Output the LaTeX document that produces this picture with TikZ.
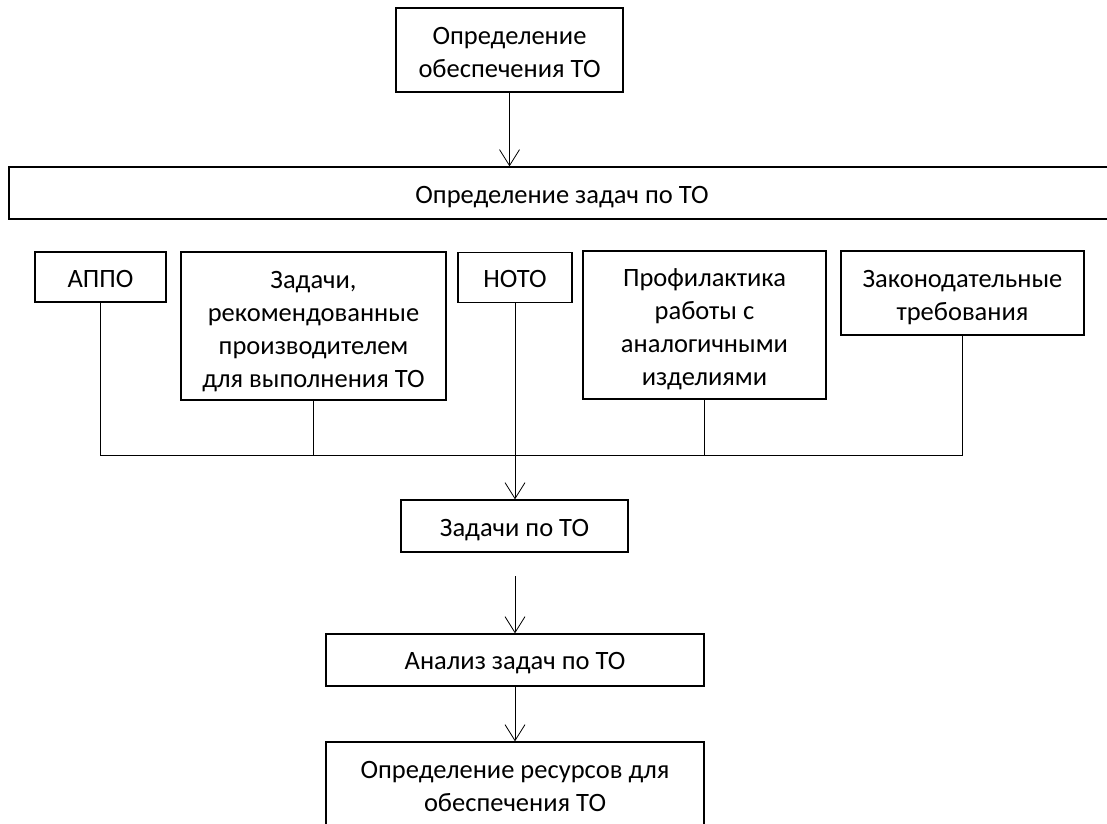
\documentclass[tikz,border=0pt]{standalone}
\usepackage{fontspec}
\setmainfont{Carlito}
\usetikzlibrary{arrows.meta}
\newcommand{\boxtxt}[2][4]{\raisebox{-#1pt}[\height][\depth]{\begin{tabular}{@{}c@{}}#2\end{tabular}}}
\begin{document}
\begin{tikzpicture}[x=1pt,y=-1pt,
  box/.style={draw, line width=1.3pt, inner sep=0pt, font=\fontsize{26.5}{33}\selectfont},
  link/.style={line width=0.8pt},
  arr/.style={link, -{Straight Barb[length=16pt,width=20pt]}}]
\clip (0,0) rectangle (1107,823);
\fill[white] (0,0) rectangle (1107,823);
% top
\node[box, minimum width=227pt, minimum height=84pt] (top) at (509.5,50) {\boxtxt{Определение\\обеспечения ТО}};
\node[box, minimum width=1106pt, minimum height=52pt] (wide) at (562,193) {\boxtxt{Определение задач по ТО}};
% row
\node[box, minimum width=131pt, minimum height=50pt] (appo) at (100.5,277) {\boxtxt{АППО}};
\node[box, minimum width=265pt, minimum height=148pt] (rec) at (313.5,326) {\boxtxt[5.5]{Задачи,\\рекомендованные\\производителем\\для выполнения ТО}};
\node[box, minimum width=114pt, minimum height=50pt] (noto) at (515,277.5) {\boxtxt[3]{НОТО}};
\node[box, minimum width=243pt, minimum height=148pt] (prof) at (704.5,325) {\boxtxt{Профилактика\\работы с\\аналогичными\\изделиями}};
\node[box, minimum width=243pt, minimum height=84pt] (law) at (962.5,293) {\boxtxt{Законодательные\\требования}};
% lower
\node[box, minimum width=227pt, minimum height=52pt] (tasks) at (514.5,526) {\boxtxt{Задачи по ТО}};
\node[box, minimum width=378pt, minimum height=52pt] (anal) at (515,660) {\boxtxt[3]{Анализ задач по ТО}};
\node[box, minimum width=378pt, minimum height=90pt] (res) at (515,787) {\boxtxt[1.5]{Определение ресурсов для\\обеспечения ТО}};
% connectors
\draw[arr] (top.south) -- (top.south |- wide.north);
\coordinate (busL) at (appo.south |- 0,455);
\coordinate (busR) at (law.south |- 0,455);
\draw[link] (appo.south) -- (busL) -- (busR) -- (law.south);
\draw[link] (rec.south) -- (rec.south |- busL);
\draw[link] (prof.south) -- (prof.south |- busL);
\draw[arr] (noto.south) -- (noto.south |- tasks.north);
\coordinate (gap) at (515,576);
\draw[arr] (gap) -- (anal.north);
\draw[arr] (anal.south) -- (res.north);
\end{tikzpicture}
\end{document}
